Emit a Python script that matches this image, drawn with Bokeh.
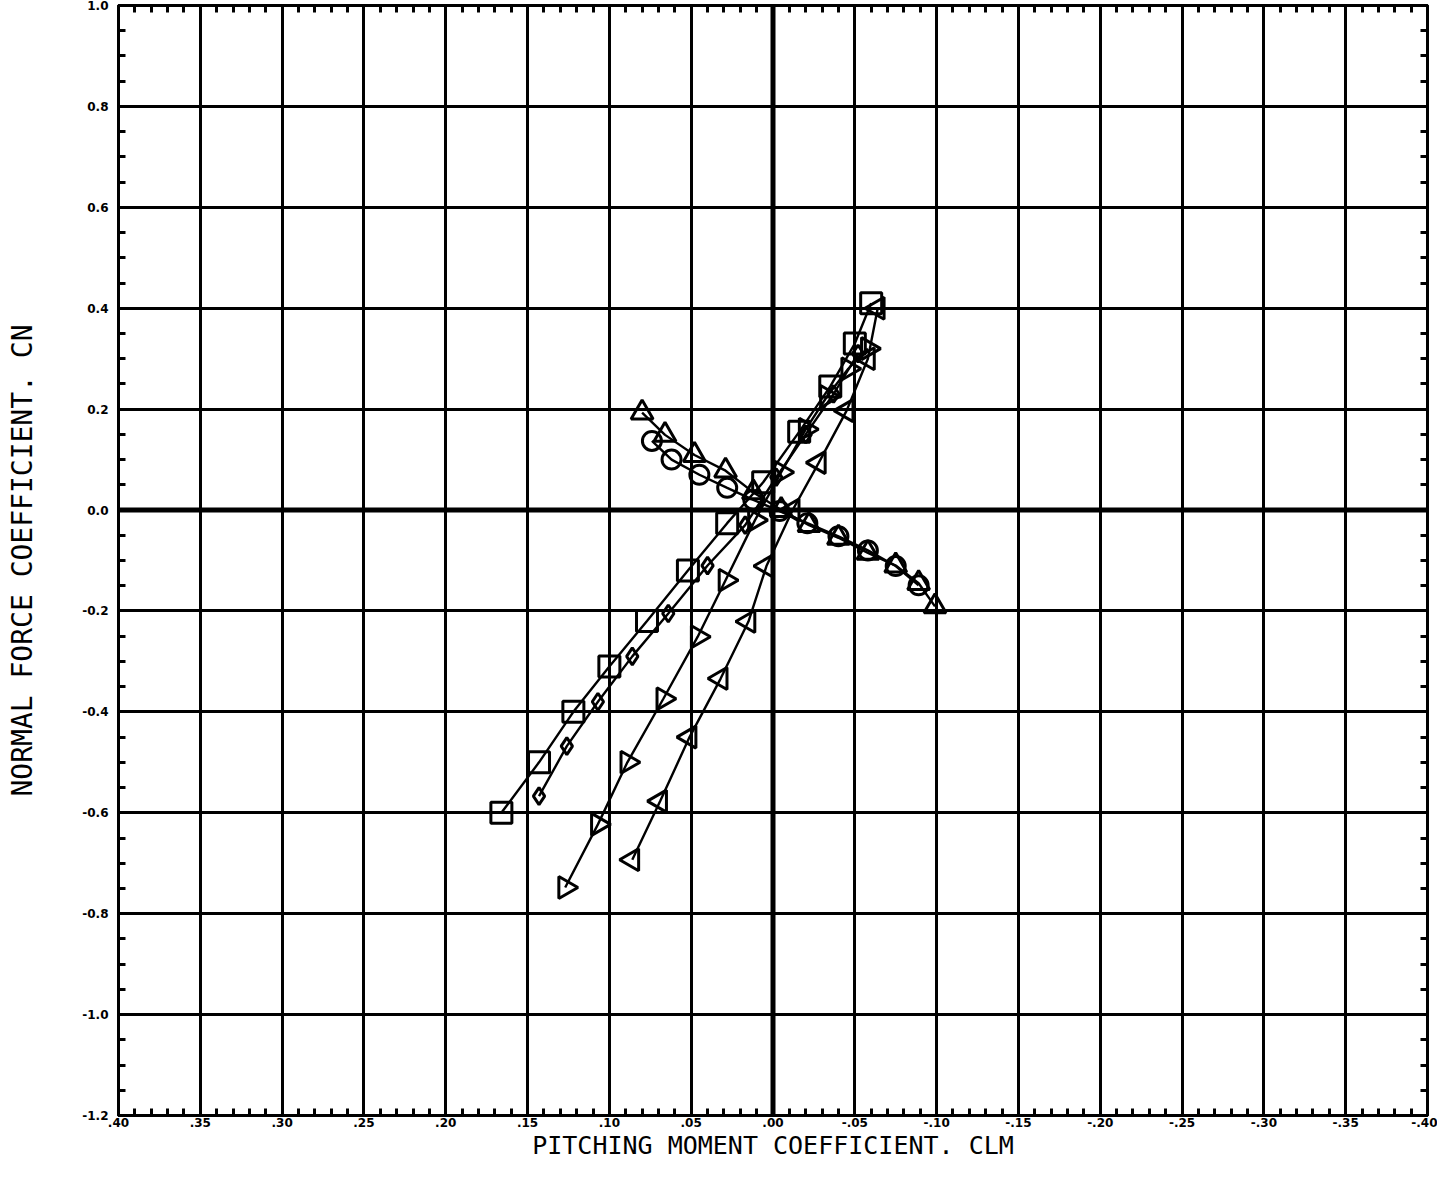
import math
from bokeh.plotting import figure
from bokeh.models import Range1d, FixedTicker, LinearAxis, Span, CustomJSTickFormatter
from bokeh.embed import file_html
from bokeh.resources import INLINE

# ---------------- data ----------------
x_ticks = [0.40, 0.35, 0.30, 0.25, 0.20, 0.15, 0.10, 0.05, 0.00,
           -0.05, -0.10, -0.15, -0.20, -0.25, -0.30, -0.35, -0.40]
y_ticks = [1.0, 0.8, 0.6, 0.4, 0.2, 0.0, -0.2, -0.4, -0.6, -0.8, -1.0, -1.2]
x_minor = [round(-0.40 + 0.01 * i, 2) for i in range(81)]
y_minor = [round(-1.2 + 0.05 * i, 2) for i in range(45)]

sq_x = [0.166, 0.143, 0.122, 0.100, 0.077, 0.052, 0.028, 0.006, -0.016, -0.035, -0.050, -0.060]
sq_y = [-0.600, -0.500, -0.400, -0.310, -0.220, -0.120, -0.026, 0.055, 0.155, 0.245, 0.330, 0.410]

dm_x = [0.143, 0.126, 0.107, 0.086, 0.064, 0.040, 0.017, -0.002, -0.020, -0.037, -0.052]
dm_y = [-0.567, -0.468, -0.380, -0.290, -0.205, -0.110, -0.030, 0.065, 0.150, 0.230, 0.310]

rt_x = [0.127, 0.107, 0.089, 0.067, 0.046, 0.029, 0.011, -0.005, -0.020, -0.033, -0.046, -0.058]
rt_y = [-0.748, -0.623, -0.500, -0.374, -0.251, -0.139, -0.020, 0.075, 0.160, 0.225, 0.280, 0.320]

lt_x = [0.086, 0.069, 0.051, 0.032, 0.015, 0.004, -0.012, -0.028, -0.045, -0.058, -0.064]
lt_y = [-0.693, -0.577, -0.450, -0.334, -0.221, -0.111, 0.000, 0.094, 0.197, 0.300, 0.400]

tr_x = [0.080, 0.066, 0.048, 0.029, 0.012, -0.005, -0.022, -0.040, -0.058, -0.075, -0.089, -0.099]
tr_y = [0.193, 0.149, 0.109, 0.078, 0.035, 0.000, -0.030, -0.055, -0.085, -0.110, -0.145, -0.191]

ci_x = [0.074, 0.062, 0.045, 0.028, 0.012, -0.004, -0.021, -0.040, -0.058, -0.075, -0.089]
ci_y = [0.137, 0.100, 0.070, 0.044, 0.020, -0.002, -0.026, -0.052, -0.080, -0.111, -0.149]

x_title = "PITCHING MOMENT COEFFICIENT. CLM"
y_title = "NORMAL FORCE COEFFICIENT. CN"

# ---------------- figure ----------------
p = figure(width=1437, height=1165, output_backend="svg", toolbar_location=None,
           x_range=Range1d(0.40, -0.40), y_range=Range1d(-1.2, 1.0),
           min_border_left=118, min_border_right=10, min_border_top=5, min_border_bottom=50,
           background_fill_color="white", border_fill_color="white")
p.outline_line_color = "black"
p.outline_line_width = 3

xt = FixedTicker(ticks=x_ticks, minor_ticks=x_minor)
yt = FixedTicker(ticks=y_ticks, minor_ticks=y_minor)

xfmt = CustomJSTickFormatter(code="""
const v = Math.round(tick*100);
const a = Math.abs(v);
const s = '.' + (a < 10 ? '0' + a : '' + a);
return v < 0 ? '-' + s : s;
""")
yfmt = CustomJSTickFormatter(code="return tick.toFixed(1);")

p.xaxis.ticker = xt
p.yaxis.ticker = yt
p.xaxis.formatter = xfmt
p.yaxis.formatter = yfmt

for ax in [p.xaxis[0], p.yaxis[0]]:
    ax.axis_line_width = 3
    ax.major_tick_in = 0
    ax.major_tick_out = 0
    ax.minor_tick_in = 7
    ax.minor_tick_out = 0
    ax.minor_tick_line_width = 3
    ax.major_label_text_font = "DejaVu Sans"
    ax.major_label_text_font_style = "bold"
    ax.major_label_text_font_size = "12px"
    ax.major_label_text_color = "black"
    ax.axis_label_text_font = "DejaVu Sans Mono"
    ax.axis_label_text_font_style = "normal"
    ax.axis_label_text_color = "black"

p.xaxis.axis_label = x_title
p.yaxis.axis_label = y_title
p.xaxis.axis_label_text_font_size = "25px"
p.yaxis.axis_label_text_font_size = "28px"
p.xaxis.major_label_standoff = 2
p.yaxis.major_label_standoff = 10
p.xaxis.axis_label_standoff = 1
p.yaxis.axis_label_standoff = 40

for loc, ticker in [("above", xt), ("right", yt)]:
    ax = LinearAxis(ticker=ticker, major_label_text_font_size="0px",
                    axis_line_width=3, major_tick_in=0, major_tick_out=0,
                    minor_tick_in=7, minor_tick_out=0, minor_tick_line_width=3)
    ax.major_label_text_alpha = 0
    p.add_layout(ax, loc)

p.xgrid.ticker = xt
p.ygrid.ticker = yt
p.xgrid.grid_line_color = "black"
p.ygrid.grid_line_color = "black"
p.xgrid.grid_line_width = 3
p.ygrid.grid_line_width = 3
p.xgrid.grid_line_alpha = 1
p.ygrid.grid_line_alpha = 1

p.add_layout(Span(location=0, dimension="height", line_color="black", line_width=5))
p.add_layout(Span(location=0, dimension="width", line_color="black", line_width=5))

series = [
    (sq_x, sq_y, "square", 0, 21),
    (dm_x, dm_y, "diamond", 0, 17),
    (rt_x, rt_y, "triangle", -math.pi / 2, 22),
    (lt_x, lt_y, "triangle", math.pi / 2, 22),
    (tr_x, tr_y, "triangle", 0, 22),
    (ci_x, ci_y, "circle", 0, 19),
]
for xs, ys, mk, ang, sz in series:
    p.line(xs, ys, line_color="black", line_width=2.4)
    p.scatter(xs, ys, marker=mk, angle=ang, size=sz, fill_color=None,
              line_color="black", line_width=3)

open("out.html", "w").write(file_html(p, INLINE))
